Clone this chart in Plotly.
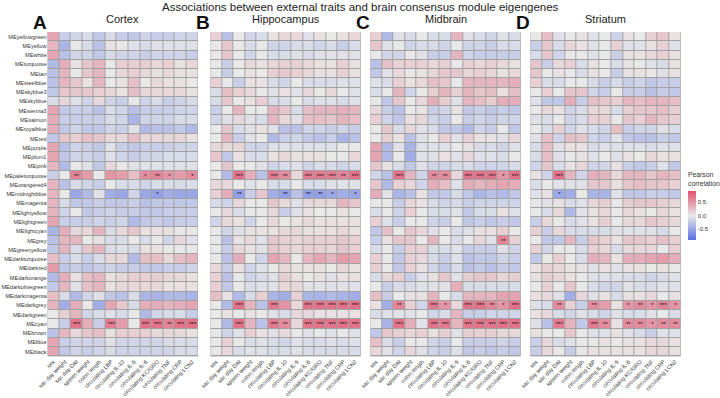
import plotly.graph_objects as go

modules = ["MEyellowgreen", "MEyellow", "MEwhite", "MEturquoise", "MEtan", "MEsteelblue",
           "MEskyblue3", "MEskyblue", "MEsienna3", "MEsalmon", "MEroyalblue", "MEred",
           "MEpurple", "MEplum1", "MEpink", "MEpaleturquoise", "MEorangered4",
           "MEmidnightblue", "MEmagenta", "MElightyellow", "MElightgreen", "MElightcyan",
           "MEgrey", "MEgreenyellow", "MEdarkturquoise", "MEdarkred", "MEdarkorange",
           "MEdarkolivegreen", "MEdarkmagenta", "MEdarkgrey", "MEdarkgreen", "MEcyan",
           "MEbrown", "MEblue", "MEblack"]

traits = ["sex", "sac day weight", "sac day DAI", "spleen weight", "colon length",
          "circulating LBP", "circulating IL-10", "circulating IL-5", "circulating IL-6",
          "circulating KC/GRO", "circulating TNF", "circulating CRP", "circulating LCN2"]

regions = ["Cortex", "Hippocampus", "Midbrain", "Striatum"]
panel_letters = ["A", "B", "C", "D"]

cortex = [
    [0.4, -0.2, -0.15, -0.1, -0.25, -0.1, -0.2, -0.25, -0.15, -0.2, -0.2, -0.15, -0.15],
    [0.3, -0.4, 0, -0.1, -0.3, 0.05, 0, -0.05, -0.1, -0.05, -0.05, -0.05, -0.05],
    [0.4, -0.3, -0.15, -0.15, -0.25, -0.1, -0.15, -0.15, -0.2, -0.15, -0.15, -0.15, -0.2],
    [-0.35, 0.35, 0.05, 0.2, 0.3, 0, 0.15, 0.15, 0.15, 0.1, 0.15, 0.05, 0.1],
    [-0.3, 0.3, 0, 0.2, 0.3, 0, 0.1, 0.15, 0.1, 0.05, 0.1, 0.05, 0.05],
    [-0.3, 0.3, 0.2, 0.05, 0.3, 0, 0.05, 0.25, 0, 0.1, 0.05, 0.05, 0],
    [-0.25, 0.2, 0.2, 0.2, 0.15, 0.1, 0.05, 0.25, 0.1, 0.1, 0.1, 0.1, 0.05],
    [-0.1, 0.1, -0.05, -0.15, 0.1, -0.15, -0.2, 0, -0.15, -0.1, -0.2, -0.15, -0.1],
    [0.4, -0.25, -0.2, -0.2, -0.3, -0.1, -0.15, -0.3, -0.2, -0.2, -0.2, -0.15, -0.15],
    [0.35, -0.2, -0.2, -0.2, -0.2, -0.1, -0.15, -0.4, -0.15, -0.15, -0.15, -0.1, -0.1],
    [0.35, -0.25, -0.15, -0.25, -0.25, -0.15, -0.2, -0.05, -0.35, -0.3, -0.3, -0.25, -0.35],
    [-0.25, 0.2, 0.15, 0.25, 0.2, 0.1, 0.1, 0.25, 0.1, 0.1, 0.1, 0.1, 0.05],
    [0.4, -0.3, -0.15, -0.2, -0.25, -0.05, -0.2, -0.25, -0.2, -0.2, -0.2, -0.15, -0.15],
    [0.4, -0.25, -0.15, -0.15, -0.2, -0.05, -0.15, -0.2, -0.15, -0.15, -0.1, -0.1, -0.1],
    [0.3, -0.35, 0, -0.05, -0.25, 0.1, 0, -0.05, -0.05, -0.05, -0.05, -0.05, -0.05],
    [-0.2, 0, 0.6, 0.45, 0, 0.5, 0.45, 0.25, 0.55, 0.6, 0.5, 0.45, 0.55],
    [0.3, -0.3, -0.1, -0.15, -0.2, 0, -0.1, -0.1, -0.15, -0.1, -0.1, -0.1, -0.1],
    [0.3, 0, -0.5, -0.35, -0.05, -0.45, -0.5, -0.15, -0.5, -0.55, -0.45, -0.5, -0.5],
    [0.3, -0.1, -0.25, -0.25, -0.2, -0.25, -0.25, -0.2, -0.3, -0.25, -0.25, -0.25, -0.25],
    [0.3, -0.15, 0, -0.25, -0.2, -0.15, -0.2, -0.2, -0.25, -0.25, -0.2, -0.2, -0.2],
    [0.4, -0.2, -0.2, -0.2, -0.15, -0.2, -0.15, -0.35, -0.25, -0.2, -0.25, -0.2, -0.2],
    [-0.4, 0.35, 0.1, 0.1, 0.3, -0.1, 0.1, 0.2, 0.05, 0.05, 0.05, 0, 0],
    [-0.3, 0.3, 0.3, 0, 0.05, -0.1, -0.1, 0, -0.1, 0, -0.15, 0.1, -0.05],
    [-0.25, 0.3, -0.1, 0.2, 0.3, -0.1, -0.05, -0.1, 0.05, 0.05, 0, 0, 0],
    [0.25, -0.2, -0.1, -0.2, -0.1, 0.1, 0.1, -0.35, 0.25, 0.25, 0.1, 0.25, 0.3],
    [0.45, -0.25, -0.2, -0.25, -0.2, -0.15, -0.2, -0.2, -0.25, -0.25, -0.2, -0.2, -0.15],
    [-0.35, 0.35, 0.05, 0.25, 0.3, 0.05, 0.1, 0.15, 0.15, 0.15, 0.1, 0.1, 0.05],
    [-0.25, 0.3, -0.05, 0.25, 0.3, 0.05, 0.1, 0.1, 0.1, 0.1, 0.05, 0.05, 0.05],
    [0.25, -0.1, -0.35, -0.15, -0.05, -0.25, -0.3, -0.1, -0.4, -0.4, -0.35, -0.35, -0.4],
    [0.3, -0.45, 0.35, 0, -0.45, 0.4, 0.2, -0.1, 0.35, 0.35, 0.3, 0.35, 0.4],
    [0, 0.15, 0.3, -0.15, -0.1, -0.05, -0.1, 0, -0.35, -0.15, -0.1, -0.1, -0.2],
    [0, -0.2, 0.7, 0.35, -0.2, 0.65, 0.45, 0, 0.7, 0.7, 0.6, 0.7, 0.7],
    [-0.3, 0.3, 0.1, 0.2, 0.25, 0.05, 0.15, 0.15, 0.15, 0.1, 0.1, 0.1, 0.05],
    [0.4, -0.2, -0.15, -0.15, -0.15, -0.05, -0.15, -0.15, -0.15, -0.15, -0.1, -0.1, -0.1],
    [0.4, -0.25, -0.15, -0.2, -0.15, -0.1, -0.15, -0.15, -0.15, -0.15, -0.15, -0.1, -0.1],
]

hippocampus = [
    [0.15, -0.3, 0, -0.15, -0.1, 0.05, 0.1, 0.1, -0.05, 0.05, 0, 0.05, 0.1],
    [0, 0.2, 0, -0.1, 0, -0.15, -0.15, -0.1, -0.1, -0.15, -0.1, -0.2, -0.1],
    [0, 0.2, 0, -0.15, 0, -0.1, -0.1, -0.05, -0.1, -0.05, -0.05, -0.05, -0.05],
    [0, -0.2, 0, 0.1, 0.05, 0.1, 0.15, 0.15, 0.1, 0.05, 0.05, 0.15, 0.05],
    [0, -0.2, 0, 0.05, 0, 0.15, 0.2, 0.15, 0.1, 0.05, 0.05, 0.15, 0.05],
    [0.15, 0, -0.2, 0.05, 0.05, -0.1, -0.15, 0, -0.1, -0.1, -0.1, -0.05, -0.05],
    [-0.1, 0.25, 0.15, 0.1, 0, -0.05, 0.05, -0.05, 0.1, 0, 0.1, 0, -0.05],
    [-0.1, 0.2, 0, 0.05, 0.15, -0.1, -0.1, 0, -0.1, -0.05, -0.05, -0.1, -0.05],
    [-0.2, 0, 0.3, 0, 0, 0.3, 0.2, -0.1, 0.25, 0.3, 0.3, 0.35, 0.3],
    [-0.15, -0.05, 0.1, -0.05, -0.1, 0.3, 0.1, -0.05, 0.25, 0.25, 0.2, 0.3, 0.25],
    [0, 0.2, -0.1, -0.05, 0.05, -0.05, -0.3, -0.3, -0.15, -0.15, -0.2, -0.15, -0.2],
    [0, 0.3, -0.2, -0.05, 0, -0.35, -0.2, -0.15, -0.25, -0.3, -0.2, -0.4, -0.3],
    [0.1, 0.1, 0.1, -0.15, -0.15, -0.05, -0.05, -0.05, -0.05, -0.05, -0.05, 0, 0],
    [0.2, -0.25, 0.05, -0.1, -0.1, 0.05, 0.1, 0.05, 0.05, 0.05, 0, 0, 0.1],
    [0, 0.2, 0, 0, -0.05, -0.15, -0.1, -0.05, -0.15, -0.1, -0.1, -0.15, -0.1],
    [0, -0.35, 0.7, 0.35, -0.3, 0.65, 0.55, 0.1, 0.65, 0.65, 0.65, 0.6, 0.7],
    [0.1, 0.1, 0, -0.05, 0, -0.1, -0.1, 0, -0.1, -0.1, -0.05, -0.05, -0.05],
    [0.15, 0.35, -0.55, -0.2, 0.2, -0.45, -0.55, -0.3, -0.55, -0.55, -0.5, -0.45, -0.5],
    [-0.1, -0.15, 0.1, 0, 0, 0.2, 0.1, -0.05, 0.1, 0.1, 0.1, 0.3, 0.2],
    [0, 0.1, -0.1, 0, 0, 0.1, -0.2, -0.05, 0.05, 0, 0, 0.05, 0],
    [-0.15, 0.1, 0.05, -0.15, 0, 0.1, 0, 0.05, 0.1, 0.05, 0.05, 0.05, 0.05],
    [0, -0.15, -0.05, 0.05, 0.05, 0.05, 0.1, 0.1, 0.05, 0.05, 0.05, 0.1, 0.05],
    [0, -0.3, 0.05, 0.1, -0.05, 0.2, 0.15, 0.1, 0.15, 0.15, 0.15, 0.2, 0.15],
    [0, -0.2, 0.1, 0.05, -0.05, 0.2, 0.15, 0.1, 0.15, 0.15, 0.1, 0.2, 0.15],
    [0, -0.3, 0.35, 0, -0.15, 0.4, 0.3, 0, 0.3, 0.4, 0.3, 0.45, 0.4],
    [0.1, -0.2, 0.05, -0.15, -0.05, 0, 0.1, 0.05, 0.05, 0.05, 0, 0.1, 0.05],
    [0.15, -0.3, 0, -0.15, -0.1, -0.05, 0.15, 0.05, 0, 0.05, -0.05, 0.05, 0.05],
    [0.15, -0.25, 0, -0.1, -0.05, -0.05, 0.1, 0.1, -0.05, -0.05, -0.05, -0.05, -0.05],
    [0.25, 0.05, -0.35, -0.1, 0.15, -0.4, -0.45, 0.15, -0.4, -0.4, -0.35, -0.4, -0.45],
    [0, -0.35, 0.7, 0.3, -0.3, 0.65, 0.5, 0.1, 0.7, 0.7, 0.7, 0.7, 0.7],
    [0, 0.05, 0, 0.05, 0, -0.05, -0.1, 0.1, 0.1, 0.05, 0.05, 0.05, 0.05],
    [0, -0.35, 0.7, 0.3, -0.3, 0.65, 0.55, 0.1, 0.7, 0.7, 0.7, 0.7, 0.7],
    [0, -0.15, -0.05, 0.15, 0.05, -0.05, 0.1, 0, -0.05, 0, -0.05, 0, -0.05],
    [0, 0.15, 0, -0.1, -0.05, -0.1, -0.15, -0.05, -0.1, -0.1, -0.05, -0.1, -0.05],
    [0, 0.1, -0.1, -0.05, -0.05, -0.1, -0.1, -0.05, -0.1, -0.1, -0.1, -0.1, -0.1],
]

midbrain = [
    [0.15, -0.35, -0.05, -0.1, 0, -0.1, -0.1, 0.3, -0.05, -0.1, -0.15, -0.05, -0.1],
    [0.2, -0.05, 0, -0.15, -0.1, -0.1, -0.15, 0, -0.15, -0.15, -0.2, -0.1, -0.1],
    [0, -0.15, -0.15, 0, -0.05, -0.2, -0.2, 0.3, -0.15, -0.2, -0.2, -0.2, -0.2],
    [-0.3, 0.25, 0.15, 0.15, 0.15, 0.1, 0.15, 0, 0.15, 0.1, 0.15, 0.1, 0.05],
    [-0.25, -0.05, 0.1, 0, 0.05, 0.1, 0.2, 0.2, 0.1, 0.15, 0.1, 0.05, 0.1],
    [-0.05, -0.1, 0.15, 0.05, 0.1, 0.25, 0.2, 0, 0.3, 0.3, 0.3, 0.3, 0.35],
    [-0.1, 0, 0.3, -0.15, 0, 0.15, 0.3, 0.15, 0.3, 0.2, 0.25, 0.05, 0.25],
    [0, -0.25, 0.2, 0, 0.1, 0.35, 0.15, -0.05, 0.3, 0.25, 0.15, 0.35, 0.35],
    [0.1, -0.2, -0.3, 0, 0.05, -0.2, -0.15, 0.05, -0.25, -0.2, -0.25, -0.2, -0.25],
    [0.15, -0.15, -0.25, 0.05, 0.1, -0.15, -0.2, 0, -0.2, -0.15, -0.2, -0.15, -0.15],
    [0, 0.2, -0.1, 0.1, -0.05, -0.1, -0.25, -0.25, -0.35, -0.15, -0.2, 0, -0.25],
    [0, 0.15, 0.05, -0.3, -0.05, 0, 0.15, -0.05, 0.15, 0.05, 0.05, -0.05, 0.1],
    [0.4, -0.35, -0.05, -0.4, -0.05, -0.05, -0.05, 0, 0.05, -0.1, -0.1, -0.15, -0.05],
    [0.4, -0.35, 0, -0.45, -0.05, -0.05, 0.05, -0.05, 0.1, -0.05, -0.05, -0.1, 0],
    [0.2, 0.05, -0.1, -0.25, -0.05, -0.15, -0.15, -0.1, -0.1, -0.15, -0.15, -0.15, -0.1],
    [-0.15, -0.3, 0.7, 0.3, -0.15, 0.55, 0.55, 0.1, 0.7, 0.7, 0.7, 0.5, 0.7],
    [0.2, -0.35, 0.15, 0.1, -0.15, 0.35, 0.25, -0.05, 0.35, 0.3, 0.35, 0.4, 0.35],
    [0.35, -0.05, -0.4, -0.3, 0.05, -0.25, -0.25, -0.1, -0.25, -0.4, -0.3, -0.35, -0.25],
    [0, 0, -0.2, 0.1, 0.05, -0.1, -0.15, -0.1, -0.2, -0.15, -0.15, -0.15, -0.15],
    [-0.1, 0, -0.15, 0.15, 0, -0.1, -0.1, -0.05, -0.25, -0.1, -0.1, 0.05, -0.05],
    [0.15, -0.05, -0.2, 0, 0, -0.15, -0.2, 0, -0.25, -0.2, -0.25, -0.2, -0.25],
    [-0.25, 0.25, 0, 0.2, 0.1, -0.05, 0, -0.1, -0.05, 0.05, 0.05, 0.15, 0],
    [-0.2, 0.05, 0.2, 0.2, 0, 0.3, 0, -0.1, 0, 0.1, -0.05, 0.6, 0.15],
    [-0.1, 0, -0.2, 0.15, 0.15, -0.1, -0.1, -0.05, -0.2, -0.2, -0.2, -0.05, -0.15],
    [0.15, 0, -0.25, 0.15, 0.1, -0.1, -0.2, -0.05, -0.3, -0.25, -0.25, -0.15, -0.2],
    [0.15, 0, -0.25, 0.15, 0.05, -0.15, -0.25, -0.1, -0.3, -0.25, -0.3, -0.2, -0.25],
    [-0.1, 0.1, 0.15, -0.2, -0.05, 0.05, 0.2, -0.05, 0.15, 0.2, 0.2, 0.1, 0.15],
    [0, -0.2, -0.1, -0.1, -0.05, -0.05, -0.05, 0.35, -0.1, -0.1, -0.1, -0.1, -0.1],
    [0.25, -0.2, 0, 0.05, 0.05, 0.3, 0, -0.1, 0.3, 0.3, 0.3, 0.4, 0.4],
    [0.05, -0.45, 0.6, 0.15, -0.15, 0.65, 0.5, 0.1, 0.7, 0.7, 0.6, 0.5, 0.7],
    [-0.1, -0.05, -0.05, -0.05, 0, -0.15, -0.1, 0.3, -0.2, -0.2, -0.15, -0.15, -0.15],
    [0, -0.4, 0.7, 0.35, -0.05, 0.7, 0.65, 0.3, 0.7, 0.7, 0.7, 0.7, 0.7],
    [-0.25, 0.2, 0.15, 0.1, 0.15, 0.05, 0.15, -0.05, 0.15, 0.15, 0.15, 0.1, 0.1],
    [0.25, -0.1, -0.2, 0, 0, -0.15, -0.2, 0, -0.2, -0.2, -0.2, -0.15, -0.2],
    [0.1, -0.05, -0.15, 0.1, -0.05, -0.15, -0.2, -0.05, -0.25, -0.2, -0.25, -0.2, -0.25],
]

striatum = [
    [0, 0.25, -0.05, 0, 0.05, -0.05, 0, -0.15, 0.05, 0, 0.15, 0.2, 0.05],
    [-0.2, 0.2, -0.1, 0.1, 0.05, -0.05, 0, 0.15, -0.05, -0.05, 0.05, 0.15, -0.05],
    [-0.1, 0.2, -0.15, 0, 0, -0.05, 0, -0.2, 0.05, 0.05, 0.1, 0.15, 0.05],
    [0.2, -0.2, 0.1, 0.15, -0.1, 0.05, 0, -0.1, 0.05, 0, -0.05, -0.1, 0.05],
    [0.2, 0, 0.05, 0, -0.1, 0.05, 0, -0.2, 0.05, 0.05, 0, -0.05, 0.05],
    [0.15, -0.1, -0.1, 0, 0, -0.1, -0.2, -0.1, -0.2, -0.15, -0.25, -0.2, -0.2],
    [0, 0.15, 0, 0.2, 0.2, -0.15, -0.2, 0, -0.2, -0.2, -0.3, -0.2, -0.25],
    [-0.05, -0.25, -0.25, 0.35, -0.2, 0.25, 0.2, 0.15, 0.3, 0.25, 0.3, 0.3, 0.25],
    [0, 0.1, 0.05, -0.15, -0.1, 0.1, 0.1, -0.1, 0.15, 0.2, 0.2, 0.25, 0.15],
    [-0.05, -0.1, 0, -0.15, -0.1, 0.15, 0.15, 0, 0.2, 0.15, 0.3, 0.2, 0.15],
    [0, -0.1, 0.15, -0.15, -0.05, -0.1, -0.15, 0.25, -0.2, -0.15, -0.15, -0.05, -0.1],
    [-0.05, 0.25, -0.15, 0.25, 0.2, -0.15, -0.2, -0.05, -0.25, -0.3, -0.3, -0.2, -0.25],
    [-0.1, 0.25, -0.05, 0.05, 0.05, -0.1, -0.05, -0.05, -0.05, -0.05, -0.1, -0.05, -0.05],
    [-0.1, 0.25, -0.05, 0, 0.05, -0.05, 0, -0.05, 0.05, 0, 0.1, 0.05, 0.05],
    [-0.15, 0.2, -0.1, 0.05, 0.1, -0.15, -0.15, 0.05, -0.2, -0.25, -0.2, -0.05, -0.25],
    [0.05, -0.15, 0.7, 0.3, -0.15, 0.35, 0.3, 0.1, 0.3, 0.3, 0.2, 0.3, 0.25],
    [-0.1, 0, -0.05, -0.05, -0.05, 0.2, 0.2, 0.05, 0.2, 0.25, 0.2, 0.2, 0.15],
    [-0.05, 0.05, -0.5, -0.45, 0, -0.4, -0.4, -0.05, -0.25, -0.25, -0.2, -0.2, -0.25],
    [0, -0.05, 0.05, -0.1, -0.05, 0.1, 0.15, 0, 0.15, 0.2, 0.2, 0.15, 0.1],
    [0, -0.1, 0.1, -0.35, -0.05, 0.05, 0.1, 0, 0.1, 0.05, 0, 0.1, 0.05],
    [-0.2, 0.1, 0, -0.1, -0.05, 0.05, 0.15, 0, 0.1, 0.1, 0.2, 0.15, 0.1],
    [0.15, -0.2, 0.1, -0.1, -0.1, -0.1, -0.1, -0.05, -0.05, -0.05, -0.05, -0.1, 0],
    [0, -0.25, -0.25, 0.3, -0.2, 0.2, 0.15, 0.05, 0.2, 0.2, 0.15, 0.25, 0.15],
    [0.15, -0.15, 0, 0, -0.1, 0.15, 0.1, -0.1, 0.1, 0.1, 0.1, 0, 0.15],
    [-0.25, 0, 0.15, 0, -0.1, 0.35, 0.3, 0.05, 0.35, 0.35, 0.4, 0.45, 0.35],
    [0.05, 0.15, 0.1, 0.05, 0.05, -0.05, 0.05, -0.05, 0.05, 0.05, 0, 0.05, 0],
    [0.05, 0.15, 0.1, 0.05, 0, -0.05, -0.05, -0.05, -0.1, -0.1, -0.15, -0.1, -0.05],
    [0, 0.15, 0, 0.2, 0, -0.1, -0.15, -0.15, -0.05, -0.1, -0.1, -0.05, -0.05],
    [0.05, 0.1, -0.05, -0.45, 0.1, -0.05, 0.05, -0.1, 0.05, 0.05, 0.1, 0, 0.05],
    [-0.05, -0.1, 0.55, 0.15, -0.2, 0.55, 0.45, 0.05, 0.5, 0.55, 0.5, 0.6, 0.5],
    [0.05, 0.1, -0.1, -0.15, -0.05, -0.1, -0.15, -0.05, -0.1, -0.1, -0.05, 0, -0.1],
    [-0.05, -0.3, 0.65, 0.3, -0.25, 0.65, 0.55, 0.05, 0.55, 0.55, 0.5, 0.55, 0.55],
    [0.05, 0, 0, 0.2, 0, -0.05, -0.05, 0.05, -0.05, -0.1, -0.2, -0.05, -0.05],
    [-0.2, 0.1, -0.1, -0.05, 0, 0, 0.05, 0, 0.05, 0.05, 0.1, 0.1, 0.05],
    [-0.2, 0.1, 0, -0.2, 0, 0.05, 0.05, 0.05, 0.05, 0.05, 0.1, 0.1, 0.05],
]

# significance stars: module -> {trait: stars}
cortex_sig = {
    "MEpaleturquoise": {"sac day DAI": "**", "circulating IL-6": "*", "circulating KC/GRO": "**",
                        "circulating TNF": "*", "circulating LCN2": "*"},
    "MEmidnightblue": {"circulating KC/GRO": "*"},
    "MEcyan": {"sac day DAI": "***", "circulating LBP": "***", "circulating IL-6": "***",
               "circulating KC/GRO": "***", "circulating TNF": "**", "circulating CRP": "***",
               "circulating LCN2": "***"},
}
hippocampus_sig = {
    "MEpaleturquoise": {"sac day DAI": "***", "circulating LBP": "***", "circulating IL-10": "**",
                        "circulating IL-6": "***", "circulating KC/GRO": "***", "circulating TNF": "***",
                        "circulating CRP": "**", "circulating LCN2": "***"},
    "MEmidnightblue": {"sac day DAI": "**", "circulating IL-10": "**", "circulating IL-6": "**",
                       "circulating KC/GRO": "**", "circulating TNF": "*", "circulating LCN2": "*"},
    "MEdarkgrey": {"sac day DAI": "***", "circulating LBP": "***", "circulating IL-6": "***",
                   "circulating KC/GRO": "***", "circulating TNF": "***", "circulating CRP": "***",
                   "circulating LCN2": "***"},
    "MEcyan": {"sac day DAI": "***", "circulating LBP": "***", "circulating IL-10": "**",
               "circulating IL-6": "***", "circulating KC/GRO": "***", "circulating TNF": "***",
               "circulating CRP": "***", "circulating LCN2": "***"},
}
midbrain_sig = {
    "MEpaleturquoise": {"sac day DAI": "***", "circulating LBP": "**", "circulating IL-10": "**",
                        "circulating IL-6": "***", "circulating KC/GRO": "***", "circulating TNF": "***",
                        "circulating CRP": "*", "circulating LCN2": "***"},
    "MEgrey": {"circulating CRP": "**"},
    "MEdarkgrey": {"sac day DAI": "**", "circulating LBP": "***", "circulating IL-10": "*",
                   "circulating IL-6": "***", "circulating KC/GRO": "***", "circulating TNF": "**",
                   "circulating CRP": "*", "circulating LCN2": "***"},
    "MEcyan": {"sac day DAI": "***", "circulating LBP": "***", "circulating IL-10": "***",
               "circulating IL-6": "***", "circulating KC/GRO": "***", "circulating TNF": "***",
               "circulating CRP": "***", "circulating LCN2": "***"},
}
striatum_sig = {
    "MEpaleturquoise": {"sac day DAI": "***"},
    "MEmidnightblue": {"sac day DAI": "*"},
    "MEdarkgrey": {"sac day DAI": "**", "circulating LBP": "**", "circulating IL-6": "*",
                   "circulating KC/GRO": "**", "circulating TNF": "*", "circulating CRP": "***",
                   "circulating LCN2": "*"},
    "MEcyan": {"sac day DAI": "***", "circulating LBP": "***", "circulating IL-10": "**",
               "circulating IL-6": "**", "circulating KC/GRO": "**", "circulating TNF": "*",
               "circulating CRP": "**", "circulating LCN2": "**"},
}

panel_values = [cortex, hippocampus, midbrain, striatum]
panel_sigs = [cortex_sig, hippocampus_sig, midbrain_sig, striatum_sig]

W, H = 720, 398
FONT = "Liberation Sans, Arial, Helvetica, sans-serif"
colorscale = [[0.0, "#5a72e6"], [0.5, "#e8e8e8"], [1.0, "#e0506e"]]

# panel geometry in pixels
panel_left = [47.5, 210.3, 370.3, 530.3]
panel_w = 150.5
top_px, bottom_px = 32, 356.4


def px_x(x):
    return x / W


def px_y(y):
    return 1 - y / H


fig = go.Figure()
for i in range(4):
    txt = []
    for m in modules:
        sig = panel_sigs[i].get(m, {})
        txt.append([sig.get(t, "") for t in traits])
    fig.add_trace(go.Heatmap(
        z=panel_values[i], x=traits, y=modules, text=txt, texttemplate="%{text}",
        textfont=dict(size=6, color="#111111", family=FONT),
        colorscale=colorscale, zmin=-0.9, zmax=0.9, xgap=1, ygap=1,
        xaxis="x" if i == 0 else f"x{i+1}", yaxis="y" if i == 0 else f"y{i+1}",
        showscale=(i == 3), hoverinfo="skip",
        colorbar=dict(x=px_x(688), xanchor="left", y=px_y(215.5), yanchor="middle",
                      len=49 / H, lenmode="fraction", thickness=8, outlinewidth=0,
                      tickvals=[-0.5, 0, 0.5], ticktext=["-0.5", "0.0", "0.5"],
                      ticks="", tickfont=dict(size=6, color="#333333", family=FONT),
                      ypad=0, xpad=0),
    ))

layout = dict(width=W, height=H, margin=dict(l=0, r=0, t=0, b=0),
              paper_bgcolor="white", plot_bgcolor="#a2a2a2", showlegend=False,
              font=dict(family=FONT, color="#333333"))
for i in range(4):
    xa = "xaxis" if i == 0 else f"xaxis{i+1}"
    ya = "yaxis" if i == 0 else f"yaxis{i+1}"
    layout[xa] = dict(domain=[px_x(panel_left[i]), px_x(panel_left[i] + panel_w)],
                      anchor="y" if i == 0 else f"y{i+1}", tickangle=-45, ticks="",
                      tickfont=dict(size=5.6, color="#333333", family=FONT),
                      showgrid=False, zeroline=False, automargin=False, fixedrange=True)
    layout[ya] = dict(domain=[px_y(bottom_px), px_y(top_px)],
                      anchor="x" if i == 0 else f"x{i+1}", autorange="reversed", ticks="",
                      showticklabels=(i == 0),
                      tickfont=dict(size=5.6, color="#333333", family=FONT),
                      showgrid=False, zeroline=False, automargin=False, fixedrange=True)
fig.update_layout(**layout)

annotations = [dict(text="Associations between external traits and brain consensus module eigengenes",
                    x=0.5, y=px_y(7), xref="paper", yref="paper", showarrow=False,
                    xanchor="center", yanchor="middle",
                    font=dict(size=11.5, color="#222222", family=FONT))]
for i in range(4):
    annotations.append(dict(text=regions[i], x=px_x(panel_left[i] + panel_w / 2), y=px_y(19),
                            xref="paper", yref="paper", showarrow=False, xanchor="center",
                            yanchor="middle", font=dict(size=11, color="#222222", family=FONT)))
    annotations.append(dict(text="<b>" + panel_letters[i] + "</b>", x=px_x(panel_left[i] + 1.5),
                            y=px_y(22), xref="paper", yref="paper", showarrow=False,
                            xanchor="right", yanchor="middle",
                            font=dict(size=19, color="#111111", family=FONT)))
annotations.append(dict(text="Pearson<br>correlation", x=px_x(686), y=px_y(189),
                        xref="paper", yref="paper", showarrow=False, xanchor="left",
                        yanchor="bottom", align="left",
                        font=dict(size=6.8, color="#333333", family=FONT)))
fig.update_layout(annotations=annotations)

# remove the default 8px page margin so the figure sits at the window origin
fig.write_html("out.html", config={"displayModeBar": False},
               post_script="document.body.style.margin='0';")
